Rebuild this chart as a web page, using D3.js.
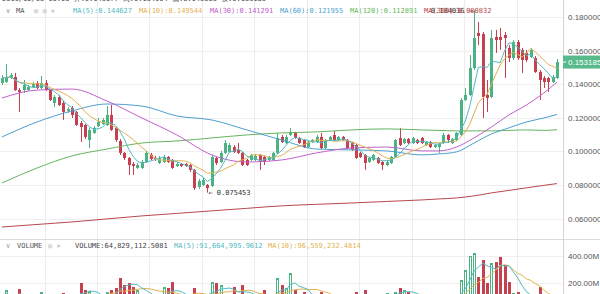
<!DOCTYPE html>
<html><head><meta charset="utf-8">
<script src="https://cdn.jsdelivr.net/npm/d3@7/dist/d3.min.js"></script>
<style>body{margin:0;background:#fff}svg{display:block}</style>
</head><body><svg id="c" width="600" height="294"></svg>
<script>
// ---------- DATA ----------
const opens=[.1407,.1413,.1437,.1443,.1365,.1365,.1365,.1383,.1407,.1377,.1407,.1365,.1288,.1324,.1288,.1241,.1258,.1235,.1169,.1157,.1068,.1110,.1151,.1163,.1157,.1217,.1140,.1062,.0991,.0961,.0925,.0901,.0901,.0937,.0979,.0961,.0931,.0937,.0967,.0949,.0913,.0925,.0925,.0919,.0890,.0788,.0800,.0800,.0794,.0961,.0937,.0991,.0997,.1026,.1009,.0991,.0949,.0949,.0949,.0979,.0967,.0949,.0949,.0991,.1086,.1050,.1098,.1110,.1080,.1068,.1026,.1056,.1056,.1086,.1020,.1068,.1098,.1068,.1086,.1068,.1050,.1038,.0991,.0979,.0937,.0949,.0961,.0937,.0919,.0931,.0967,.1080,.1050,.1074,.1050,.1068,.1080,.1038,.1056,.1026,.1026,.1050,.1098,.1050,.1068,.1098,.1306,.1336,.1496,.1705,.1699,.1336,.1324,.1681,.1681,.1693,.1616,.1556,.1651,.1604,.1586,.1562,.1556,.1473,.1437,.1437,.1413,.1437];
const highs=[.1455,.1520,.1467,.1467,.1377,.1425,.1395,.1413,.1419,.1449,.1425,.1371,.1336,.1336,.1300,.1264,.1270,.1241,.1181,.1163,.1140,.1151,.1199,.1199,.1270,.1276,.1145,.1074,.0997,.0967,.0937,.0931,.0949,.1003,.0991,.0973,.0973,.0979,.0973,.0955,.0937,.0931,.0931,.0925,.0896,.0836,.0842,.0806,.0979,.0967,.1003,.1068,.1050,.1038,.1050,.0997,.0955,.0985,.0985,.0985,.0973,.0973,.0997,.1110,.1098,.1098,.1140,.1116,.1086,.1074,.1062,.1074,.1098,.1110,.1074,.1092,.1122,.1092,.1092,.1074,.1056,.1044,.0997,.0985,.0967,.0985,.0967,.0943,.0943,.0973,.1074,.1140,.1080,.1080,.1086,.1074,.1086,.1062,.1062,.1044,.1050,.1110,.1104,.1080,.1116,.1318,.1377,.1574,.1840,.1770,.1711,.1425,.1723,.1723,.1735,.1711,.1633,.1663,.1663,.1616,.1604,.1616,.1568,.1485,.1449,.1443,.1455,.1550];
const lows=[.1395,.1407,.1431,.1360,.1235,.1348,.1360,.1377,.1371,.1371,.1360,.1300,.1264,.1270,.1187,.1229,.1199,.1151,.1056,.1074,.1020,.1104,.1145,.1157,.1151,.1122,.1056,.0979,.0949,.0860,.0860,.0896,.0896,.0931,.0949,.0943,.0925,.0931,.0931,.0896,.0907,.0907,.0907,.0878,.0770,.0776,.0794,.075453,.0788,.0919,.0931,.0985,.0991,.0991,.0985,.0913,.0913,.0943,.0943,.0890,.0919,.0943,.0943,.0985,.1050,.1044,.1092,.1074,.1044,.1020,.1020,.1050,.1050,.1014,.1014,.1062,.1062,.1062,.1062,.1014,.1003,.0955,.0961,.0890,.0931,.0943,.0925,.0890,.0913,.0925,.0961,.1032,.1044,.1044,.1044,.1044,.1044,.1032,.1020,.1020,.0991,.1044,.1050,.1044,.1062,.1092,.1300,.1330,.1485,.1633,.1199,.1235,.1318,.1586,.1604,.1437,.1532,.1544,.1544,.1467,.1532,.1556,.1467,.1306,.1377,.1354,.1407,.1431];
const closes=[.1437,.1443,.1455,.1365,.1354,.1395,.1383,.1401,.1377,.1407,.1365,.1306,.1324,.1276,.1235,.1252,.1217,.1157,.1145,.1086,.1128,.1140,.1175,.1187,.1217,.1128,.1068,.0991,.0961,.0919,.0913,.0919,.0937,.0991,.0955,.0955,.0961,.0967,.0937,.0901,.0925,.0913,.0913,.0890,.0782,.0824,.0830,.0782,.0967,.0931,.0991,.1050,.1038,.0997,.0991,.0919,.0919,.0979,.0973,.0937,.0937,.0967,.0991,.1080,.1056,.1086,.1116,.1080,.1050,.1026,.1056,.1068,.1086,.1020,.1068,.1086,.1068,.1086,.1068,.1020,.1009,.0961,.0967,.0931,.0961,.0979,.0931,.0919,.0937,.0967,.1068,.1038,.1074,.1050,.1080,.1050,.1050,.1056,.1026,.1038,.1044,.1098,.1068,.1074,.1110,.1306,.1336,.1496,.1675,.1687,.1324,.1318,.1675,.1663,.1663,.1675,.1556,.1651,.1556,.1544,.1544,.1604,.1473,.1425,.1413,.1413,.1443,.153185];
const volumes=[95,148,80,105,155,90,70,85,75,133,100,110,85,95,126,60,105,112,200,148,140,90,70,80,133,148,163,237,185,200,170,148,110,105,90,70,95,170,163,207,80,65,75,110,163,100,90,85,207,200,185,115,105,170,95,185,110,80,75,100,148,70,90,237,185,163,274,148,110,133,95,80,100,133,90,70,85,60,75,100,110,133,95,148,80,70,90,105,126,100,133,163,148,133,90,75,85,70,95,65,80,110,90,75,100,222,296,400,422,244,370,200,348,355,393,333,207,126,133,110,100,90,115,170,95,80,70,64.83].map(v=>v*1e6);

// long moving averages at these candle indices
const maIdx=[0,8,16,24,32,40,48,56,64,72,80,88,96,100,104,108,112,116,120,124,127];
const ma30=[.1318,.1365,.1371,.1300,.1199,.1098,.0979,.0937,.0949,.0991,.1020,.1026,.1003,.1003,.1026,.1080,.1145,.1217,.1276,.1348,.141291];
const ma60=[.1086,.1175,.1241,.1282,.1270,.1211,.1187,.1128,.1068,.1014,.1009,.1003,.0979,.0985,.0997,.1050,.1104,.1140,.1175,.1199,.121955];
const ma120=[.0812,.0901,.0973,.1014,.1050,.1062,.1080,.1098,.1110,.1116,.1128,.1134,.1128,.1125,.1122,.1122,.1122,.1125,.1128,.1125,.112891];
const ma360=[.0550,.0565,.0580,.0598,.0616,.0631,.0646,.0661,.0676,.0685,.0693,.0702,.0711,.0717,.0723,.0735,.0753,.0768,.0783,.0798,.080832];

const priceTicks=[0.18,0.16,0.14,0.12,0.10,0.08,0.06];
const volTicks=[400e6,200e6];
const lastPrice=0.153185;
const lowMark={i:47,v:0.075453}, highMark={i:108,v:0.184036};

// ---------- DRAW ----------
const svg=d3.select('#c');
const N=closes.length;
const AX=563;
const x=d3.scaleLinear().domain([0,N-1]).range([2,557]);
const y=d3.scaleLinear().domain([0.06,0.18]).range([218.6,17]);
const yv=d3.scaleLinear().domain([0,400e6]).range([310,256]);
const UP='#4bb383', DN='#c7404f';
const col=i=>closes[i]>=opens[i]?UP:DN;
const MONO='"DejaVu Sans Mono",monospace';
const SANS='"Liberation Sans",Arial,sans-serif';

const defs=svg.append('defs');
defs.append('clipPath').attr('id','cp').append('rect').attr('x',0).attr('y',0).attr('width',AX).attr('height',239);
defs.append('clipPath').attr('id','cv').append('rect').attr('x',0).attr('y',240).attr('width',AX).attr('height',60);

// grid
const g=svg.append('g');
g.selectAll('.hg').data(priceTicks).join('line')
 .attr('x1',0).attr('x2',AX).attr('y1',d=>Math.round(y(d))+0.5).attr('y2',d=>Math.round(y(d))+0.5)
 .attr('stroke','#efefef');
g.selectAll('.hv').data(volTicks).join('line')
 .attr('x1',0).attr('x2',AX).attr('y1',d=>Math.round(yv(d))+0.5).attr('y2',d=>Math.round(yv(d))+0.5)
 .attr('stroke','#efefef');
g.selectAll('.vg').data(d3.range(9.75,N,12)).join('line')
 .attr('x1',d=>Math.round(x(d))+0.5).attr('x2',d=>Math.round(x(d))+0.5).attr('y1',0).attr('y2',294)
 .attr('stroke','#ececec');
g.append('line').attr('x1',0).attr('x2',600).attr('y1',239.5).attr('y2',239.5).attr('stroke','#dcdcdc');
g.append('line').attr('x1',AX+0.5).attr('x2',AX+0.5).attr('y1',0).attr('y2',294).attr('stroke','#d4d4d4');

// price panel
const pg=svg.append('g').attr('clip-path','url(#cp)');
const idx=d3.range(N);
pg.selectAll('.w').data(idx).join('line')
 .attr('x1',i=>Math.round(x(i))+0.5).attr('x2',i=>Math.round(x(i))+0.5)
 .attr('y1',i=>y(highs[i])).attr('y2',i=>y(lows[i])).attr('stroke',col).attr('stroke-width',1);
pg.selectAll('.b').data(idx).join('rect')
 .attr('x',i=>Math.round(x(i))-1).attr('width',3)
 .attr('y',i=>y(Math.max(opens[i],closes[i])))
 .attr('height',i=>Math.max(1,Math.abs(y(opens[i])-y(closes[i]))))
 .attr('fill',col);

function movAvg(arr,k){return arr.map((_,i)=>{const s=arr.slice(Math.max(0,i-k+1),i+1);return d3.mean(s);});}
const ma5=movAvg(closes,5), ma10=movAvg(closes,10);
const line=d3.line().x(d=>x(d[0])).y(d=>y(d[1]));
const curve=d3.line().x(d=>x(d[0])).y(d=>y(d[1])).curve(d3.curveMonotoneX);
const C={ma5:'#53b9c4',ma10:'#e2b14f',ma30:'#c160cc',ma60:'#4e9fd0',ma120:'#64b55e',ma360:'#b8484b'};
[[ma360,C.ma360],[ma120,C.ma120],[ma60,C.ma60],[ma30,C.ma30]].forEach(([arr,c])=>{
  pg.append('path').attr('d',curve(maIdx.map((k,j)=>[k,arr[j]]))).attr('fill','none').attr('stroke',c).attr('stroke-width',1);
});
pg.append('path').attr('d',line(ma10.map((v,i)=>[i,v]))).attr('fill','none').attr('stroke',C.ma10).attr('stroke-width',1);
pg.append('path').attr('d',line(ma5.map((v,i)=>[i,v]))).attr('fill','none').attr('stroke',C.ma5).attr('stroke-width',1);

// volume panel
const vg=svg.append('g').attr('clip-path','url(#cv)');
vg.selectAll('.vb').data(idx).join('rect')
 .attr('x',i=>closes[i]>=opens[i]?Math.round(x(i))-0.5:Math.round(x(i))-1)
 .attr('width',i=>closes[i]>=opens[i]?2:3)
 .attr('y',i=>yv(volumes[i])+(closes[i]>=opens[i]?0.5:0))
 .attr('height',i=>yv(0)-yv(volumes[i]))
 .attr('fill',i=>closes[i]>=opens[i]?'#fff':DN)
 .attr('stroke',i=>closes[i]>=opens[i]?UP:'none').attr('stroke-width',1);
const vline=d3.line().x(d=>x(d[0])).y(d=>yv(d[1]));
const vma5=movAvg(volumes,5), vma10=movAvg(volumes,10);
vg.append('path').attr('d',vline(vma10.map((v,i)=>[i,v]))).attr('fill','none').attr('stroke',C.ma10).attr('stroke-width',1);
vg.append('path').attr('d',vline(vma5.map((v,i)=>[i,v]))).attr('fill','none').attr('stroke',C.ma5).attr('stroke-width',1);

// axis labels
const ax=svg.append('g').attr('font-family',SANS).attr('font-size',8).attr('fill','#555');
ax.selectAll('.pt').data(priceTicks).join('text').attr('x',AX+5).attr('y',d=>y(d)+3).text(d=>d.toFixed(6));
ax.selectAll('.vt').data(volTicks).join('text').attr('x',AX+5).attr('y',d=>yv(d)+3).text(d=>(d/1e6).toFixed(2)+'M');
svg.append('rect').attr('x',AX).attr('y',y(lastPrice)-6.5).attr('width',40).attr('height',13).attr('fill','#58b98a');
svg.append('line').attr('x1',AX).attr('x2',AX+3).attr('y1',y(lastPrice)).attr('y2',y(lastPrice)).attr('stroke','#fff');
svg.append('text').attr('x',AX+5).attr('y',y(lastPrice)+3).attr('font-family',SANS).attr('font-size',8).attr('fill','#fff').text(lastPrice.toFixed(6));

// markers
const mk=svg.append('g').attr('font-family',MONO).attr('font-size',7).attr('fill','#333');
mk.append('text').attr('x',x(lowMark.i)+1).attr('y',y(lowMark.v)+2.5).text('← '+lowMark.v.toFixed(6));
mk.append('text').attr('x',x(highMark.i)-1).attr('y',y(highMark.v)+2.5).attr('text-anchor','end').text(highMark.v.toFixed(6)+' →');

// legends
const lg=svg.append('g').attr('font-family',MONO).attr('font-size',7);
lg.append('text').attr('x',2).attr('y',1).attr('fill','#444').text('2019/12/05 16:00  开:0.143677  高:0.154964  低:0.143083  收:0.153185');
lg.append('text').attr('x',6).attr('y',12.5).attr('fill','#999').text('∨');
lg.append('text').attr('x',16).attr('y',12.5).attr('fill','#555').text('MA');
lg.append('text').attr('x',34).attr('y',12.5).attr('fill','#aaa').text('◎ ◎ ×');
const maLeg=[['MA(5):0.144627',73,C.ma5],['MA(10):0.149544',139,C.ma10],['MA(30):0.141291',210,C.ma30],['MA(60):0.121955',280,C.ma60],['MA(120):0.112891',350,C.ma120],['MA(360):0.080832',424,C.ma360]];
lg.selectAll('.ml').data(maLeg).join('text').attr('x',d=>d[1]).attr('y',12.5).attr('fill',d=>d[2]).text(d=>d[0]);
lg.append('text').attr('x',6).attr('y',248).attr('fill','#999').text('∨');
lg.append('text').attr('x',17).attr('y',248).attr('fill','#555').text('VOLUME');
lg.append('text').attr('x',48).attr('y',248).attr('fill','#aaa').text('◎ ×');
const vLeg=[['VOLUME:64,829,112.5081',75,'#444'],['MA(5):91,664,995.9612',174,C.ma5],['MA(10):96,559,232.4814',268,C.ma10]];
lg.selectAll('.vl').data(vLeg).join('text').attr('x',d=>d[1]).attr('y',248).attr('fill',d=>d[2]).text(d=>d[0]);
</script></body></html>
